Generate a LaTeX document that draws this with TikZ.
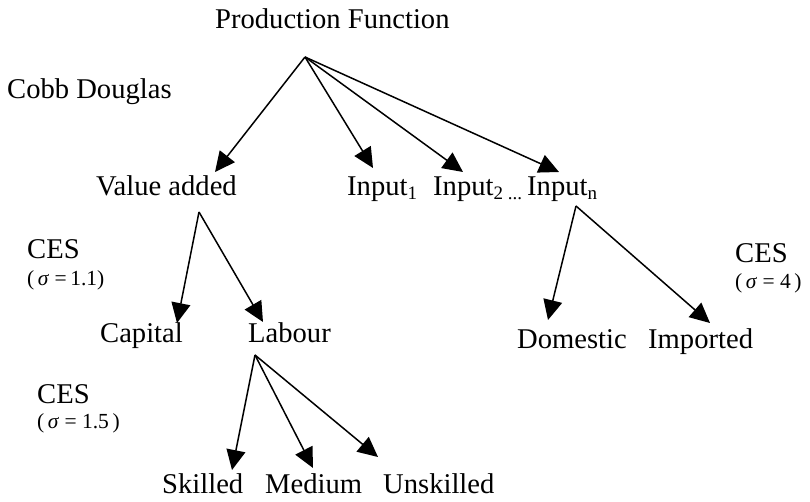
\documentclass[tikz,border=0pt]{standalone}
\usepackage{fontspec}
\setmainfont{Liberation Serif}
\usetikzlibrary{arrows.meta}
\tikzset{
  lbl/.style={anchor=base west, inner sep=0pt, font=\fontsize{28.6}{32}\selectfont},
  sig/.style={anchor=base west, inner sep=0pt, font=\fontsize{21.5}{24}\selectfont},
  arr/.style={line width=1.5pt, -{Triangle[length=20pt,width=19pt]}},
  ln/.style={line width=1.5pt}
}
\newcommand{\sbs}[1]{\raisebox{-0.15em}{\fontsize{19}{19}\selectfont #1}}
\begin{document}
\begin{tikzpicture}[x=1pt,y=-1pt]
\useasboundingbox (0,0) rectangle (810,501);
% texts
\node[lbl] (pf) at (215,28) {Production Function};
\node[lbl] (cd) at (7,98) {Cobb Douglas};
\node[lbl] (va) at (96,195) {Value added};
\node[lbl] (in1) at (347,195) {Input\sbs{1}};
\node[lbl] (in2) at (433,195) {Input\sbs{2}\,\sbs{...}};
\node[lbl] (inn) at (527,195) {Input\sbs{n}};
\node[lbl] (ces1) at (27,258) {CES};
\node[sig] (s1) at (27,285) {(\,\textit{σ} =\,1.1)};
\node[lbl] (cap) at (100,342) {Capital};
\node[lbl] (lab) at (248,342) {Labour};
\node[lbl] (ces2) at (37,403) {CES};
\node[sig] (s2) at (37,428) {(\,\textit{σ} = 1.5\,)};
\node[lbl] (sk) at (162,493) {Skilled};
\node[lbl] (me) at (265,493) {Medium};
\node[lbl] (un) at (383,493) {Unskilled};
\node[lbl] (ces3) at (735,262) {CES};
\node[sig] (s3) at (735,288) {(\,\textit{σ} = 4\,)};
\node[lbl] (dom) at (517,348) {Domestic};
\node[lbl] (imp) at (648,348) {Imported};
% connection points
\coordinate (root) at (305,57);
\coordinate (vabot) at (199,212);
\coordinate (labbot) at (255,355);
\coordinate (innbot) at (576,206);
\coordinate (tva) at (215,172);
\coordinate (tin1) at (373,168);
\coordinate (tin2) at (463,172);
\coordinate (tinn) at (559,172);
\coordinate (tcap) at (177,323);
\coordinate (tlab) at (263,322);
\coordinate (tsk) at (232,470);
\coordinate (tme) at (313,468);
\coordinate (tun) at (378,457);
\coordinate (tdom) at (548,320);
\coordinate (timp) at (710,323);
% connectors
\draw[arr] (root) -- (tva);
\draw[arr] (root) -- (tin1);
\draw[arr] (root) -- (tin2);
\draw[arr] (root) -- (tinn);
\draw[arr] (vabot) -- (tcap);
\draw[arr] (vabot) -- (tlab);
\draw[arr] (labbot) -- (tsk);
\draw[arr] (labbot) -- (tme);
\draw[arr] (labbot) -- (tun);
\draw[arr] (innbot) -- (tdom);
\draw[arr] (innbot) -- (timp);
\end{tikzpicture}
\end{document}
